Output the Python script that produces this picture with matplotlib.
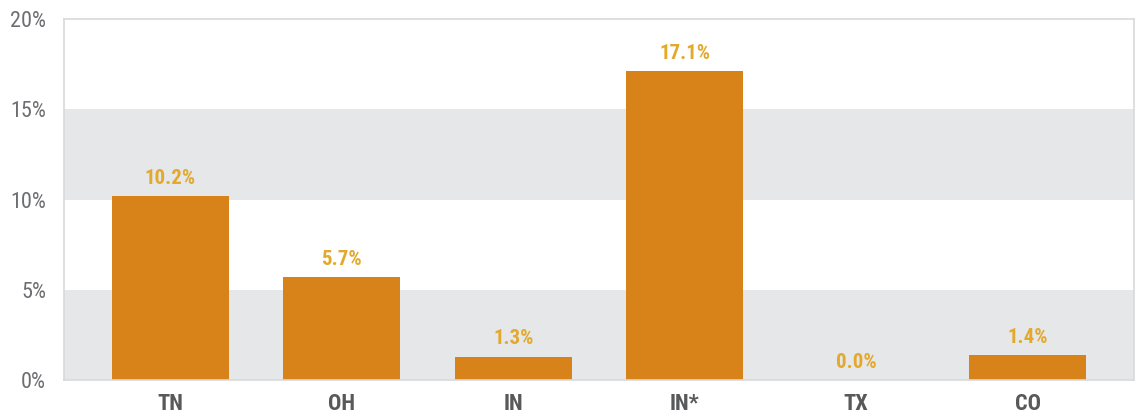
import matplotlib.pyplot as plt
from matplotlib import font_manager

states = ['TN', 'OH', 'IN', 'IN*', 'TX', 'CO']
values = [10.2, 5.7, 1.3, 17.1, 0.0, 1.4]
yticks = [0, 5, 10, 15, 20]

names = {f.name for f in font_manager.fontManager.ttflist}
fam = 'Roboto Condensed' if 'Roboto Condensed' in names else 'Roboto'
plt.rcParams['font.family'] = [fam, 'DejaVu Sans']

fig = plt.figure(figsize=(11.37, 4.17), dpi=100)
ax = fig.add_axes([64 / 1137, 37 / 417, 1070 / 1137, 361 / 417])

# alternating horizontal bands
for lo in [0, 10]:
    ax.axhspan(lo, lo + 5, color='#e6e7e9', zorder=0, lw=0)

x = range(len(states))
ax.bar(x, values, width=0.68, color='#d8821a', zorder=2)
for i, v in zip(x, values):
    ax.text(i, v + 0.45, f'{v:.1f}%', ha='center', va='bottom',
            fontsize=15, fontweight='bold', color='#e3a92c')

ax.set_xlim(-0.62, 5.62)
ax.set_ylim(0, 20)
ax.set_yticks(yticks)
ax.set_yticklabels([f'{t}%' for t in yticks])
ax.set_xticks(list(x))
ax.set_xticklabels(states, fontweight='bold')
ax.tick_params(axis='y', length=0, pad=13, labelsize=16, labelcolor='#6d6e71')
ax.tick_params(axis='x', length=0, pad=9, labelsize=16, labelcolor='#58595b')
for s in ax.spines.values():
    s.set_color('#d9d9d9')
    s.set_linewidth(1.2)

fig.savefig('out.png', dpi=100)
